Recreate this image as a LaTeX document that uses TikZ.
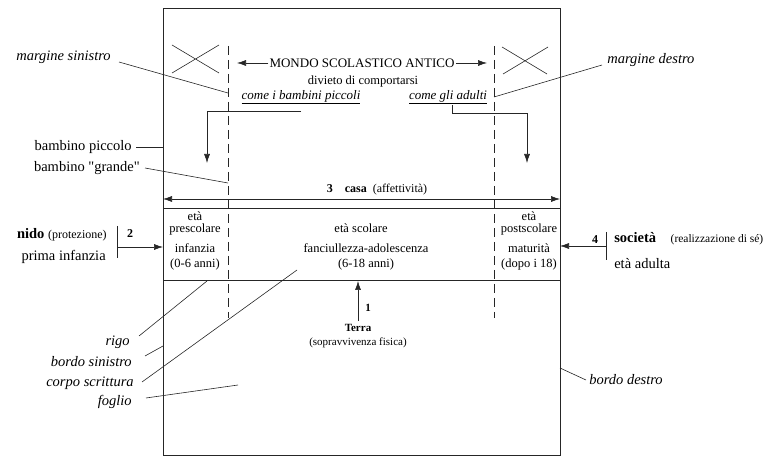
\documentclass[tikz,border=0pt]{standalone}
\usepackage{fontspec}
\setmainfont{Liberation Serif}
\newfontfamily\plainserif{Liberation Serif}
\usetikzlibrary{positioning, arrows.meta, calc}

\begin{document}
\begin{tikzpicture}[
    x = 1pt, y = -1pt,
    > = {Latex[length=9pt, width=6pt]},
    line width = 0.6pt,
    draw = black!85,
    lab/.style={font=\fontsize{#1}{#1}\selectfont, inner sep=1pt},
    lab/.default=14.5,
    itlab/.style={font=\fontsize{#1}{#1}\selectfont\itshape, inner sep=1pt},
    itlab/.default=14.5,
    cell/.style={font=\fontsize{12.5}{#1}\selectfont, align=center, inner sep=0pt},
    cell/.default=12,
    margin/.style={dash pattern=on 9pt off 5pt}
]
\useasboundingbox (0,0) rectangle (769,457);

% --- Foglio ---
\coordinate (fNW) at (163,8);
\coordinate (fSE) at (560,455);
\draw (fNW) rectangle (fSE);

% --- Margini ---
\coordinate (mlTop) at (228,46);
\coordinate (mlBot) at (228,318);
\coordinate (mrTop) at (494,46);
\coordinate (mrBot) at (494,318);
\draw[margin] (mlTop) -- (mlBot);
\draw[margin] (mrTop) -- (mrBot);

% crossed out corners
\draw (172,45) -- (219,73) (172,73) -- (219,45);
\draw (502,47) -- (547,74) (503,74) -- (548,47);

% --- Mondo scolastico antico ---
\node[lab=13] (mondo) at (362,63) {MONDO SCOLASTICO ANTICO};
\coordinate (mondoL) at (237,63);
\coordinate (mondoR) at (487,63);
\draw[->] (mondo.west) -- (mondoL);
\draw[->] (mondo.east) -- (mondoR);

\node[lab=12.5] (divieto) at (363,81) {divieto di comportarsi};
\node[itlab=13] (piccoli) at (301,97) {\underline{come i bambini piccoli}};
\node[itlab=13] (adulti) at (448,97) {\underline{come gli adulti}};

\coordinate (piccoliTip) at (207,163);
\coordinate (adultiTip) at (527,163);
\draw[->] ([yshift=-6pt]piccoli.south) -| (piccoliTip);
\draw[->] ([xshift=4pt]adulti.south) |- ([yshift=50pt]adultiTip) -- (adultiTip);

% --- Labels, top left and right ---
\node[itlab, anchor=east] (msin) at (112,57) {margine sinistro};
\coordinate (msinPt) at (228,93);
\draw ([shift={(7pt,-5pt)}]msin.east) -- (msinPt);

\node[itlab, anchor=west] (mdes) at (606,60) {margine destro};
\coordinate (mdesPt) at (494,97);
\draw ([shift={(-4pt,-5pt)}]mdes.west) -- (mdesPt);

\node[lab, anchor=east] (bpic) at (133,147) {bambino piccolo};
\draw ([xshift=3pt]bpic.east) -- (bpic.east -| fNW);

\node[lab, anchor=east] (bgr) at (141,168) {bambino {\plainserif"}grande{\plainserif"}};
\coordinate (bgrPt) at (228,183);
\draw ([xshift=4pt]bgr.east) -- (bgrPt);

% --- 3: casa ---
\coordinate (casaL) at (163,199);
\coordinate (casaR) at (560,199);
\draw[<->] (casaL) -- (casaR);
\node[lab=12] (casa) at (377,190) {\textbf{3}\quad\textbf{casa}\enspace(affettività)};

% --- Age band ---
\draw (163,208) -- (560,208);
\draw (163,280) -- (560,280);

\node[cell] (preA) at (195,223) {età\\prescolare};
\node[cell=15] (preB) at (195,257) {infanzia\\(0-6 anni)};
\node[cell] (scoA) at (361,228) {età scolare};
\node[cell=15] (scoB) at (366,257) {fanciullezza-adolescenza\\(6-18 anni)};
\node[cell] (postA) at (529,223) {età\\postscolare};
\node[cell=15] (postB) at (529,257) {maturità\\(dopo i 18)};

% --- 2: nido ---
\node[lab, anchor=east] (nido) at (108,235) {\textbf{nido} {\fontsize{12}{12}\selectfont(protezione)}};
\node[lab, anchor=east] (prima) at (107,257) {prima infanzia};
\coordinate (nidoBar) at (117,247);
\draw ([yshift=21pt]nidoBar) -- ([yshift=-11pt]nidoBar);
\node[lab=12] (due) at (130,234) {\textbf{2}};
\draw[->] (nidoBar) -- (nidoBar -| fNW);

% --- 4: societa ---
\node[lab, anchor=west] (soc) at (613,239) {\textbf{società}\quad{\fontsize{11.5}{12}\selectfont(realizzazione di sé)}};
\node[lab, anchor=west] (adulta) at (613,264) {età adulta};
\coordinate (socBar) at (606,246);
\draw ([yshift=14pt]socBar) -- ([yshift=-14pt]socBar);
\node[lab=12] (quattro) at (595,240) {\textbf{4}};
\draw[->] (socBar) -- (socBar -| fSE);

% --- 1: Terra ---
\node[lab=11] (terra) at (358,328) {\textbf{Terra}};
\node[lab=11] (sopr) at (358,343) {(sopravvivenza fisica)};
\node[lab=11] (uno) at (368,308) {\textbf{1}};
\coordinate (terraTip) at (358,281);
\draw[->] ([yshift=2pt]terra.north) -- (terraTip);

% --- Labels, bottom ---
\node[itlab, anchor=east] (rigo) at (131,342) {rigo};
\node[itlab, anchor=east] (bsin) at (133,362) {bordo sinistro};
\node[itlab, anchor=east] (corpo) at (135,383) {corpo scrittura};
\node[itlab, anchor=east] (fogl) at (133,402) {foglio};
\coordinate (rigoPt) at (207,281);
\coordinate (corpoPt) at (297,270);
\coordinate (foglPt) at (238,385);
\draw ([shift={(8pt,6pt)}]rigo.east) -- (rigoPt);
\draw ([shift={(12pt,6pt)}]bsin.east) -- ([yshift=16pt]bsin.east -| fNW);
\draw ([shift={(7pt,1pt)}]corpo.east) -- (corpoPt);
\draw ([shift={(13pt,4pt)}]fogl.east) -- (foglPt);

\node[itlab, anchor=west] (bdes) at (588,380) {bordo destro};
\draw ([xshift=-2pt]bdes.west) -- ([yshift=12pt]bdes.west -| fSE);

\end{tikzpicture}
\end{document}
